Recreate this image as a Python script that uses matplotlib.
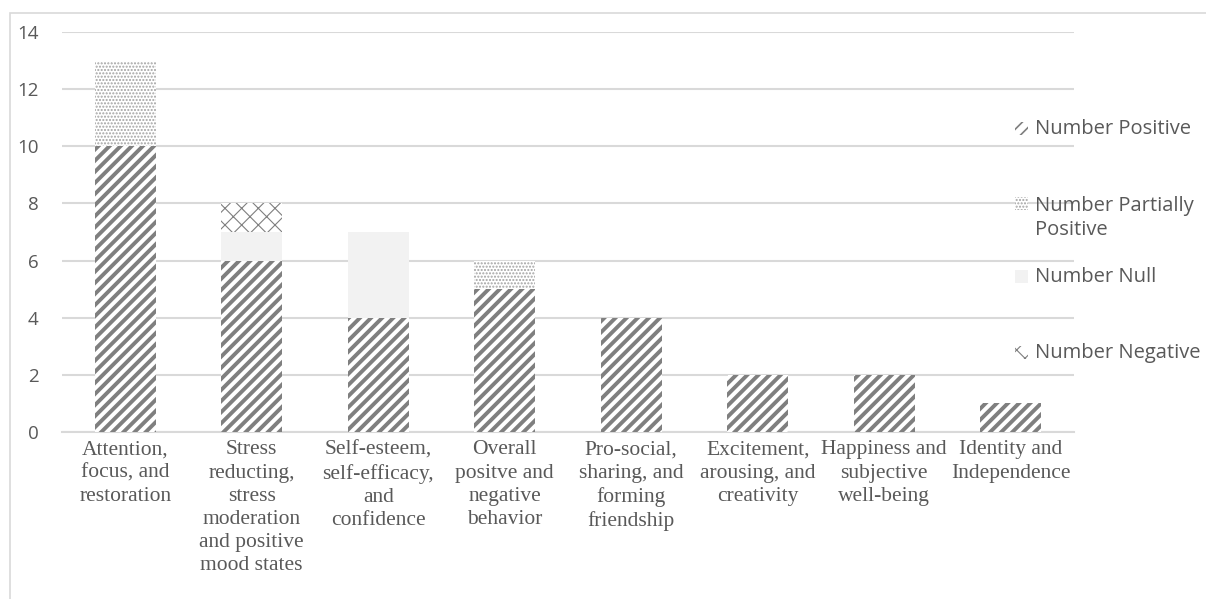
import numpy as np
import matplotlib
matplotlib.use("Agg")
import matplotlib.pyplot as plt
from matplotlib.patches import Rectangle

# outcome categories and number of studies per finding
categories = [
    "Attention,\nfocus, and\nrestoration",
    "Stress\nreducting,\nstress\nmoderation\nand positive\nmood states",
    "Self-esteem,\nself-efficacy,\nand\nconfidence",
    "Overall\npositve and\nnegative\nbehavior",
    "Pro-social,\nsharing, and\nforming\nfriendship",
    "Excitement,\narousing, and\ncreativity",
    "Happiness and\nsubjective\nwell-being",
    "Identity and\nIndependence",
]
positive = [10, 6, 4, 5, 4, 2, 2, 1]
partially_positive = [3, 0, 0, 1, 0, 0, 0, 0]
null = [0, 1, 3, 0, 0, 0, 0, 0]
negative = [0, 1, 0, 0, 0, 0, 0, 0]
y_ticks = [0, 2, 4, 6, 8, 10, 12, 14]
series_names = ["Number Positive", "Number Partially\nPositive", "Number Null",
                "Number Negative"]

grey = "#7f7f7f"
grid_col = "#d9d9d9"
text_col = "#595959"
null_col = "#f2f2f2"

W, H = 1206, 599
fig = plt.figure(figsize=(W / 100, H / 100), dpi=100)
# light chart-area border on the left and top
fig.patches.append(Rectangle((10 / W, -0.1), 1.2, 1 - 13 / H + 0.1,
                             transform=fig.transFigure, fill=False,
                             edgecolor=grid_col, linewidth=1.2))
ax = fig.add_axes([62 / W, 1 - 432 / H, 1012 / W, 400 / H])

x = np.arange(len(categories))
w = 0.48
pos = np.array(positive)
part = np.array(partially_positive)
nul = np.array(null)
neg = np.array(negative)

# (hatch, linewidth, edgecolor, facecolor) for each series
styles = [
    ("///", 2.8, grey, "white"),
    (".....", 1.0, "#a3a3a3", "white"),
    (None, 1.0, null_col, null_col),
    ("xx", 0.8, grey, "white"),
]

bottoms = [np.zeros(len(x)), pos, pos + part, pos + part + nul]
for vals, bot, (hatch, hlw, ec, fc) in zip([pos, part, nul, neg], bottoms, styles):
    plt.rcParams["hatch.linewidth"] = hlw
    ax.bar(x, vals, w, bottom=bot, color=fc, edgecolor=ec, linewidth=0,
           hatch=hatch, zorder=3)

ax.set_xlim(-0.5, len(categories) - 0.5)
ax.set_ylim(0, 14)
ax.set_yticks(y_ticks)
ax.yaxis.grid(True, color=grid_col, linewidth=1.5, zorder=0)
for s in ["left", "right", "top"]:
    ax.spines[s].set_visible(False)
ax.spines["bottom"].set_color(grid_col)
ax.spines["bottom"].set_linewidth(1.5)
ax.tick_params(axis="y", length=0, pad=17, labelsize=13.5, labelcolor=text_col)
ax.tick_params(axis="x", length=0, pad=6)
for lab in ax.get_yticklabels():
    lab.set_fontfamily("Open Sans")
ax.set_xticks(x)
ax.set_xticklabels(categories, fontfamily="Liberation Serif", fontsize=15.5,
                   color=text_col, linespacing=1.3, va="top")

# legend entries on the right
legend_y = [129, 218, 277, 353]
for name, ly, (hatch, hlw, ec, fc) in zip(series_names, legend_y, styles):
    top_line = ly - 14 if "\n" in name else ly
    plt.rcParams["hatch.linewidth"] = min(hlw, 1.2)
    fig.patches.append(Rectangle((1015 / W, 1 - (top_line + 6) / H), 13 / W, 13 / H,
                                 transform=fig.transFigure, facecolor=fc,
                                 edgecolor=ec, linewidth=0, hatch=hatch))
    fig.text(1035 / W, 1 - ly / H, name, ha="left", va="center",
             fontfamily="Open Sans", fontsize=14.5, color=text_col,
             linespacing=1.3)

fig.savefig("out.png", dpi=100)
